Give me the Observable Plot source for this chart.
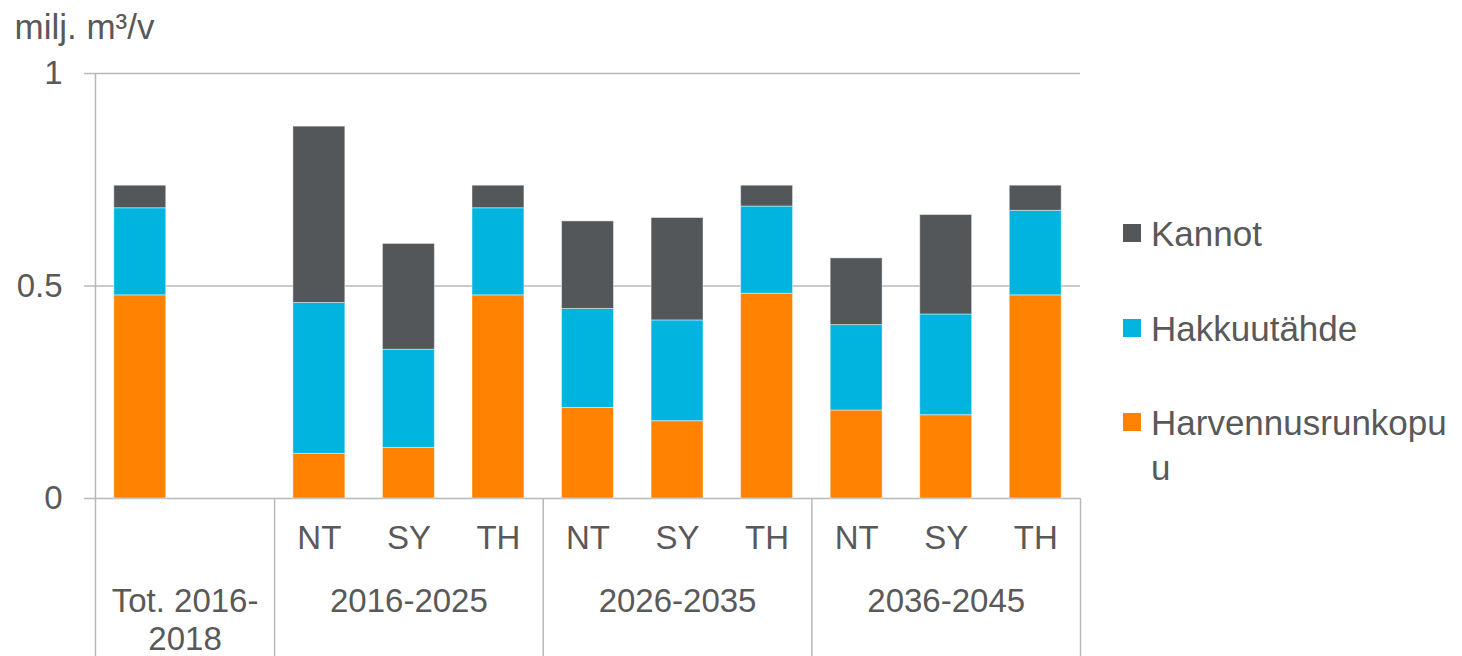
<!DOCTYPE html>
<html>
<head>
<meta charset="utf-8">
<script src="https://cdn.jsdelivr.net/npm/d3@7"></script>
<script src="https://cdn.jsdelivr.net/npm/@observablehq/plot@0.6"></script>
<style>
  html, body { margin: 0; padding: 0; background: #fff; overflow: hidden; }
  #wrap { position: relative; width: 1462px; height: 656px; font-family: "Liberation Sans", Arial, sans-serif; color: #595959; }
  #chart { position: absolute; left: 0; top: 0; }
  .leg { position: absolute; left: 1123px; font-size: 35px; line-height: 45px; display: flex; align-items: flex-start; }
  .sw { width: 18px; height: 18px; margin-right: 10px; margin-top: 13px; flex: none; }
</style>
</head>
<body>
<div id="wrap">
  <div id="chart"></div>
  <div id="legend"></div>
</div>
<script>
// ---- data ----
const categories = ["Tot. 2016-2018", "(tyhjä)",
  "NT 2016-2025", "SY 2016-2025", "TH 2016-2025",
  "NT 2026-2035", "SY 2026-2035", "TH 2026-2035",
  "NT 2036-2045", "SY 2036-2045", "TH 2036-2045"];
const tickLabels = ["", "", "NT", "SY", "TH", "NT", "SY", "TH", "NT", "SY", "TH"];
const seriesNames = ["Harvennusrunkopuu", "Hakkuutähde", "Kannot"];
const harvennusrunkopuu = [0.478, null, 0.105, 0.119, 0.478, 0.213, 0.182, 0.482, 0.207, 0.196, 0.478];
const hakkuutahde       = [0.205, null, 0.355, 0.231, 0.205, 0.233, 0.237, 0.205, 0.201, 0.237, 0.199];
const kannot            = [0.053, null, 0.415, 0.249, 0.053, 0.206, 0.241, 0.049, 0.157, 0.234, 0.059];
const groupLabels = ["Tot. 2016-\n2018", "2016-2025", "2026-2035", "2036-2045"];
const groupAnchorCats = [categories[0], categories[3], categories[6], categories[9]];
const groupShift = [0.5, 0, 0, 0];            // in category steps
const boundaryCats = [categories[2], categories[5], categories[8]];
const yTicks = [0, 0.5, 1];
const colors = ["#FF8300", "#00B4E0", "#53575A"];

// ---- build table ----
const valuesBySeries = [harvennusrunkopuu, hakkuutahde, kannot];
const rows = [];
categories.forEach((c, i) => {
  seriesNames.forEach((s, j) => {
    const v = valuesBySeries[j][i];
    if (v != null) rows.push({cat: c, series: s, value: v});
  });
});

const W = 1462, H = 656;
const mL = 95, mR = 382, mT = 73, mB = 158;
const step = (W - mL - mR) / categories.length;
const yBottom = -(mB / (H - mT - mB)); // data value at the bottom edge of the svg

const groups = groupLabels.map((g, i) => ({label: g, cat: groupAnchorCats[i], shift: groupShift[i]}));

const plot = Plot.plot({
  width: W, height: H,
  marginLeft: mL, marginRight: mR, marginTop: mT, marginBottom: mB,
  style: {fontSize: "33px", fontFamily: "'Liberation Sans', Arial, sans-serif", color: "#595959", background: "#fff", overflow: "visible"},
  x: {domain: categories, paddingInner: 0.42, paddingOuter: 0.21, round: false, axis: null},
  y: {domain: [0, 1], axis: null},
  color: {domain: seriesNames, range: colors},
  marks: [
    Plot.gridY(yTicks, {stroke: "#b8b8b8", strokeOpacity: 1, strokeWidth: 1.5}),
    Plot.axisY(yTicks, {tickSize: 11, tickPadding: 22, tickFormat: d => String(d), stroke: "#b8b8b8", strokeWidth: 1.5, label: null, fontSize: 33}),
    Plot.barY(rows, Plot.stackY({order: seriesNames}, {x: "cat", y: "value", fill: "series", stroke: "#ffffff", strokeOpacity: 0.45, strokeWidth: 1})),
    Plot.ruleX([categories[0]], {y1: 1, y2: yBottom, dx: -step / 2, stroke: "#b8b8b8", strokeWidth: 1.5}),
    Plot.ruleX(boundaryCats, {y1: 0, y2: yBottom, dx: -step / 2, stroke: "#b8b8b8", strokeWidth: 1.5}),
    Plot.ruleX([categories[categories.length - 1]], {y1: 0, y2: yBottom, dx: step / 2, stroke: "#b8b8b8", strokeWidth: 1.5}),
    Plot.axisX({tickSize: 0, tickPadding: 27, tickFormat: (d, i) => tickLabels[categories.indexOf(d)], label: null, fontSize: 33}),
    ...groups.map(g => Plot.text([g], {x: "cat", text: "label", frameAnchor: "bottom", lineAnchor: "top", dy: 87, dx: g.shift * step, lineHeight: 1.15, fontSize: 33})),
    Plot.text(["milj. m³/v"], {frameAnchor: "top-left", textAnchor: "start", lineAnchor: "top", dx: -81, dy: -59, fontSize: 35})
  ]
});
document.getElementById("chart").appendChild(plot);

// ---- legend ----
const legendTops = [211, 306, 400];
const legendText = ["Kannot", "Hakkuutähde", "Harvennusrunkopu<br>u"];
const legendColors = [colors[2], colors[1], colors[0]];
const legend = document.getElementById("legend");
legendText.forEach((t, i) => {
  const d = document.createElement("div");
  d.className = "leg";
  d.style.top = legendTops[i] + "px";
  d.innerHTML = `<span class="sw" style="background:${legendColors[i]}"></span><span>${t}</span>`;
  legend.appendChild(d);
});
</script>
</body>
</html>
